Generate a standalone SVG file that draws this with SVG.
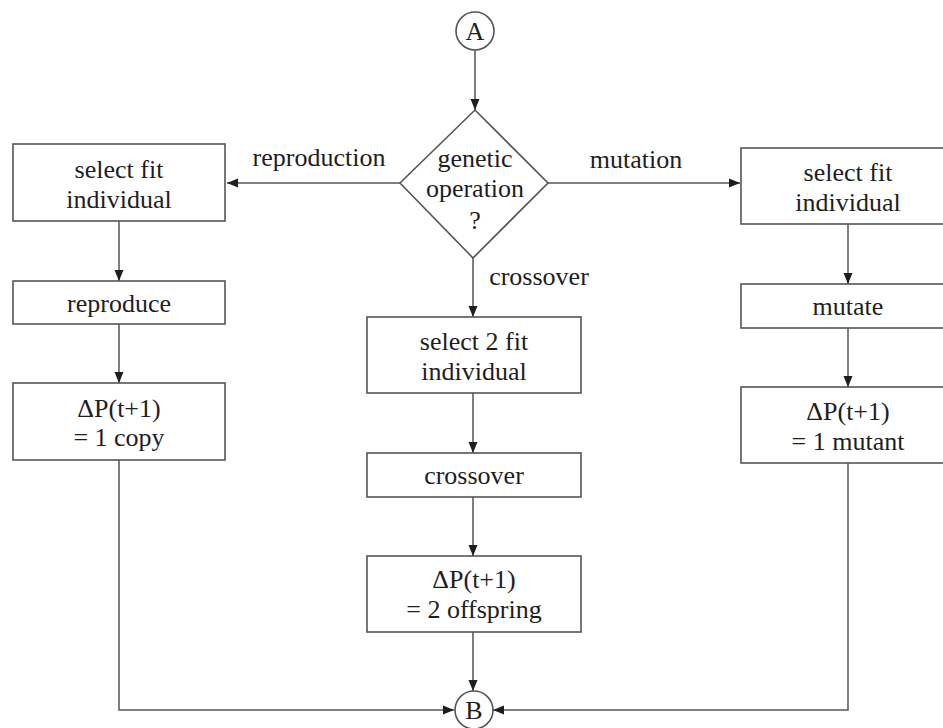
<svg xmlns="http://www.w3.org/2000/svg" width="943" height="728" viewBox="0 0 943 728">
  <style>
    .box { fill: #ffffff; stroke: #555555; stroke-width: 1.6; }
    .edge { fill: none; stroke: #555555; stroke-width: 1.5; }
    .t { font-family: 'Liberation Serif', Tinos, 'Times New Roman', 'DejaVu Serif', serif; font-size: 26px; fill: #1e1e1e; text-anchor: middle; }
  </style>
  <defs>
    <marker id="arrow" markerUnits="userSpaceOnUse" markerWidth="12" markerHeight="10" refX="11" refY="5" orient="auto">
      <path d="M0,0.5 L11,5 L0,9.5 Z" fill="#1e1e1e"/>
    </marker>
  </defs>
  <rect width="943" height="728" fill="#ffffff"/>

  <!-- connectors -->
  <g id="connectors">
    <line class="edge" x1="475" y1="50" x2="475" y2="110" marker-end="url(#arrow)"/>
    <line class="edge" x1="400" y1="183" x2="227" y2="183" marker-end="url(#arrow)"/>
    <line class="edge" x1="548" y1="183" x2="740" y2="183" marker-end="url(#arrow)"/>
    <line class="edge" x1="473" y1="258" x2="473" y2="317" marker-end="url(#arrow)"/>
    <!-- reproduction branch -->
    <line class="edge" x1="119" y1="221" x2="119" y2="281" marker-end="url(#arrow)"/>
    <line class="edge" x1="119" y1="324" x2="119" y2="383" marker-end="url(#arrow)"/>
    <polyline class="edge" points="119,460 119,710 454,710" marker-end="url(#arrow)"/>
    <!-- crossover branch -->
    <line class="edge" x1="473" y1="393" x2="473" y2="453" marker-end="url(#arrow)"/>
    <line class="edge" x1="473" y1="497" x2="473" y2="556" marker-end="url(#arrow)"/>
    <line class="edge" x1="473" y1="632" x2="473" y2="691" marker-end="url(#arrow)"/>
    <!-- mutation branch -->
    <line class="edge" x1="848" y1="224" x2="848" y2="284" marker-end="url(#arrow)"/>
    <line class="edge" x1="848" y1="328" x2="848" y2="387" marker-end="url(#arrow)"/>
    <polyline class="edge" points="848,463 848,710 493,710" marker-end="url(#arrow)"/>
  </g>

  <!-- branch labels -->
  <g id="labels">
    <text class="t" x="319" y="166">reproduction</text>
    <text class="t" x="636" y="168">mutation</text>
    <text class="t" x="539" y="285">crossover</text>
  </g>

  <g id="connector-A">
    <circle class="box" cx="475" cy="31" r="19"/>
    <text class="t" x="475" y="40">A</text>
  </g>

  <g id="decision">
    <polygon class="box" points="475,110 548,183 473,258 400,183"/>
    <text class="t" x="475" y="167">genetic</text>
    <text class="t" x="475" y="197">operation</text>
    <text class="t" x="475" y="229">?</text>
  </g>

  <g id="select-fit-left">
    <rect class="box" x="13" y="144" width="212" height="77"/>
    <text class="t" x="119" y="178">select fit</text>
    <text class="t" x="119" y="208">individual</text>
  </g>
  <g id="reproduce">
    <rect class="box" x="13" y="281" width="212" height="43"/>
    <text class="t" x="119" y="312">reproduce</text>
  </g>
  <g id="result-copy">
    <rect class="box" x="13" y="383" width="212" height="77"/>
    <text class="t" x="119" y="417">ΔP(t+1)</text>
    <text class="t" x="119" y="446">= 1 copy</text>
  </g>

  <g id="select-two-fit">
    <rect class="box" x="367" y="317" width="214" height="76"/>
    <text class="t" x="474" y="350">select 2 fit</text>
    <text class="t" x="474" y="380">individual</text>
  </g>
  <g id="crossover">
    <rect class="box" x="367" y="453" width="214" height="44"/>
    <text class="t" x="474" y="484">crossover</text>
  </g>
  <g id="result-offspring">
    <rect class="box" x="367" y="556" width="214" height="76"/>
    <text class="t" x="474" y="588">ΔP(t+1)</text>
    <text class="t" x="474" y="618">= 2 offspring</text>
  </g>

  <g id="select-fit-right">
    <rect class="box" x="741" y="148" width="214" height="76"/>
    <text class="t" x="848" y="181">select fit</text>
    <text class="t" x="848" y="211">individual</text>
  </g>
  <g id="mutate">
    <rect class="box" x="741" y="284" width="214" height="44"/>
    <text class="t" x="848" y="315">mutate</text>
  </g>
  <g id="result-mutant">
    <rect class="box" x="741" y="387" width="214" height="76"/>
    <text class="t" x="848" y="420">ΔP(t+1)</text>
    <text class="t" x="848" y="450">= 1 mutant</text>
  </g>

  <g id="connector-B">
    <circle class="box" cx="474" cy="710" r="19"/>
    <text class="t" x="474" y="719">B</text>
  </g>
</svg>
